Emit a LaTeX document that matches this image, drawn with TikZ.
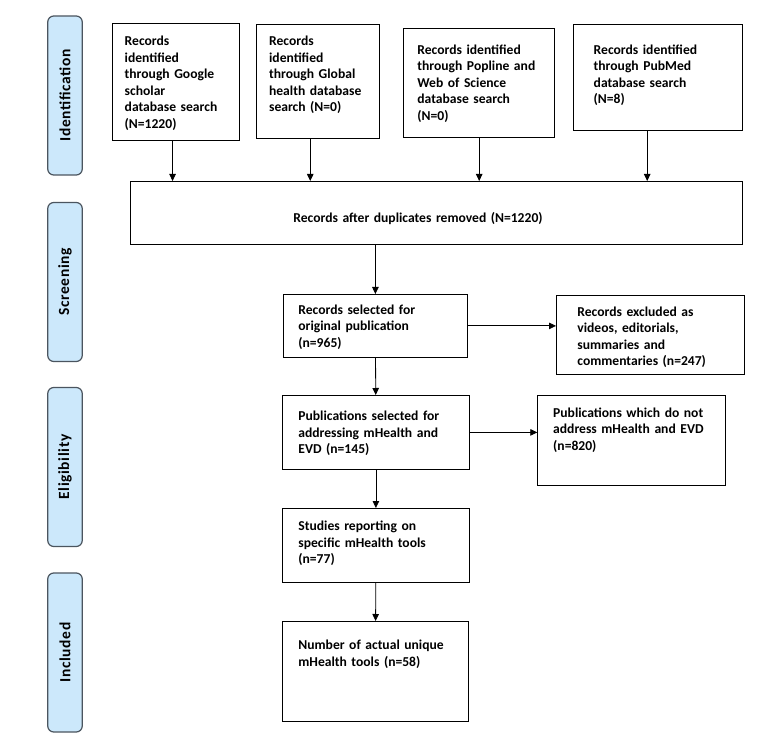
\documentclass[tikz,border=0pt]{standalone}
\usepackage{fontspec}
\setmainfont{Carlito}
\newfontfamily\tabfont[LetterSpace=4]{Carlito}
\usetikzlibrary{arrows.meta}
\definecolor{tabblue}{RGB}{204,232,251}
\definecolor{tabline}{RGB}{75,85,95}

\begin{document}
\begin{tikzpicture}[x=1pt, y=-1pt, >={Triangle[width=6.5pt,length=7pt]}, thick]
	\tikzstyle{every node}=[font=\bfseries\fontsize{13.6}{16.5}\selectfont]
	\tikzstyle{box}=[draw, line width=0.8pt, anchor=north west, align=left, inner ysep=0pt]
	\tikzstyle{tab}=[draw=tabline, fill=tabblue, line width=1.2pt, rounded corners=6pt,
		rotate=90, minimum width=159pt, minimum height=34.5pt, inner sep=0pt,
		font=\tabfont\bfseries\fontsize{15.5}{18}\selectfont]
	\useasboundingbox (0,0) rectangle (777,738);
	% % Nodes
	% stage tabs
	\node[tab](identtab) at (65,95.5) {Identification};
	\node[tab](screentab) at (65,282) {Screening};
	\node[tab](eligtab) at (65,467) {Eligibility};
	\node[tab](incltab) at (65,652.5) {Included};
	% database searches
	\node[box, text width=102.7pt, inner xsep=12.3pt, text height=22pt, text depth=94.7pt]
	(google) at (112,23.3)
	{Records\\identified\\through Google\\scholar\\database search\\(N=1220)};
	\node[box, text width=97.3pt, inner xsep=13pt, text height=21.1pt, text depth=92.9pt]
	(globalh) at (255.7,24.3)
	{Records\\identified\\through Global\\health database\\search (N=0)};
	\node[box, text width=123.6pt, inner xsep=13.7pt, text height=25.4pt, text depth=83.3pt]
	(popline) at (403.3,28.3)
	{Records identified\\through Popline and\\Web of Science\\database search\\(N=0)};
	\node[box, text width=129pt, inner xsep=20pt, text height=29.7pt, text depth=76.3pt]
	(pubmed) at (573.3,24)
	{Records identified\\through PubMed\\database search\\(N=8)};
	% duplicates removed
	\node[box, text width=286.3pt, inner xsep=163pt, text height=40.7pt, text depth=22.3pt]
	(dedup) at (130,181)
	{Records after duplicates removed (N=1220)};
	% screening
	\node[box, text width=154pt, inner xsep=15pt, text height=19.7pt, text depth=43.3pt]
	(screened) at (283,294)
	{Records selected for\\original publication\\(n=965)};
	\node[box, text width=146pt, inner xsep=21pt, text height=21pt, text depth=58pt]
	(excluded) at (556,295)
	{Records excluded as\\videos, editorials,\\summaries and\\commentaries (n=247)};
	% eligibility
	\node[box, text width=155pt, inner xsep=16pt, text height=25.4pt, text depth=48.6pt]
	(eligible) at (282,395)
	{Publications selected for\\addressing mHealth and\\EVD (n=145)};
	\node[box, text width=157pt, inner xsep=15.5pt, text height=22pt, text depth=68pt]
	(notmh) at (537.3,395)
	{Publications which do not\\address mHealth and EVD\\(n=820)};
	\node[box, text width=155pt, inner xsep=16pt, text height=22.4pt, text depth=51.6pt]
	(studies) at (282,508)
	{Studies reporting on\\specific mHealth tools\\(n=77)};
	% included
	\node[box, text width=154pt, inner xsep=16pt, text height=28.4pt, text depth=71.6pt]
	(tools) at (282,621)
	{Number of actual unique\\mHealth tools (n=58)};
	% % Connectors
	\draw [->] ([xshift=-3.5pt]google.south) -- ([xshift=-3.5pt]google.south |- dedup.north);
	\draw [->] ([xshift=-7.5pt]globalh.south) -- ([xshift=-7.5pt]globalh.south |- dedup.north);
	\draw [->] (popline.south) -- (popline.south |- dedup.north);
	\draw [->] ([xshift=-11pt]pubmed.south) -- ([xshift=-11pt]pubmed.south |- dedup.north);
	\draw [->] (dedup.south -| screened.north) -- (screened.north);
	\draw [->] (screened.east) -- (screened.east -| excluded.west);
	\draw [->] (screened) -- (eligible);
	\draw [->] (eligible.east) -- (eligible.east -| notmh.west);
	\draw [->] (eligible) -- (studies);
	\draw [->] (studies) -- (tools);
\end{tikzpicture}
\end{document}
